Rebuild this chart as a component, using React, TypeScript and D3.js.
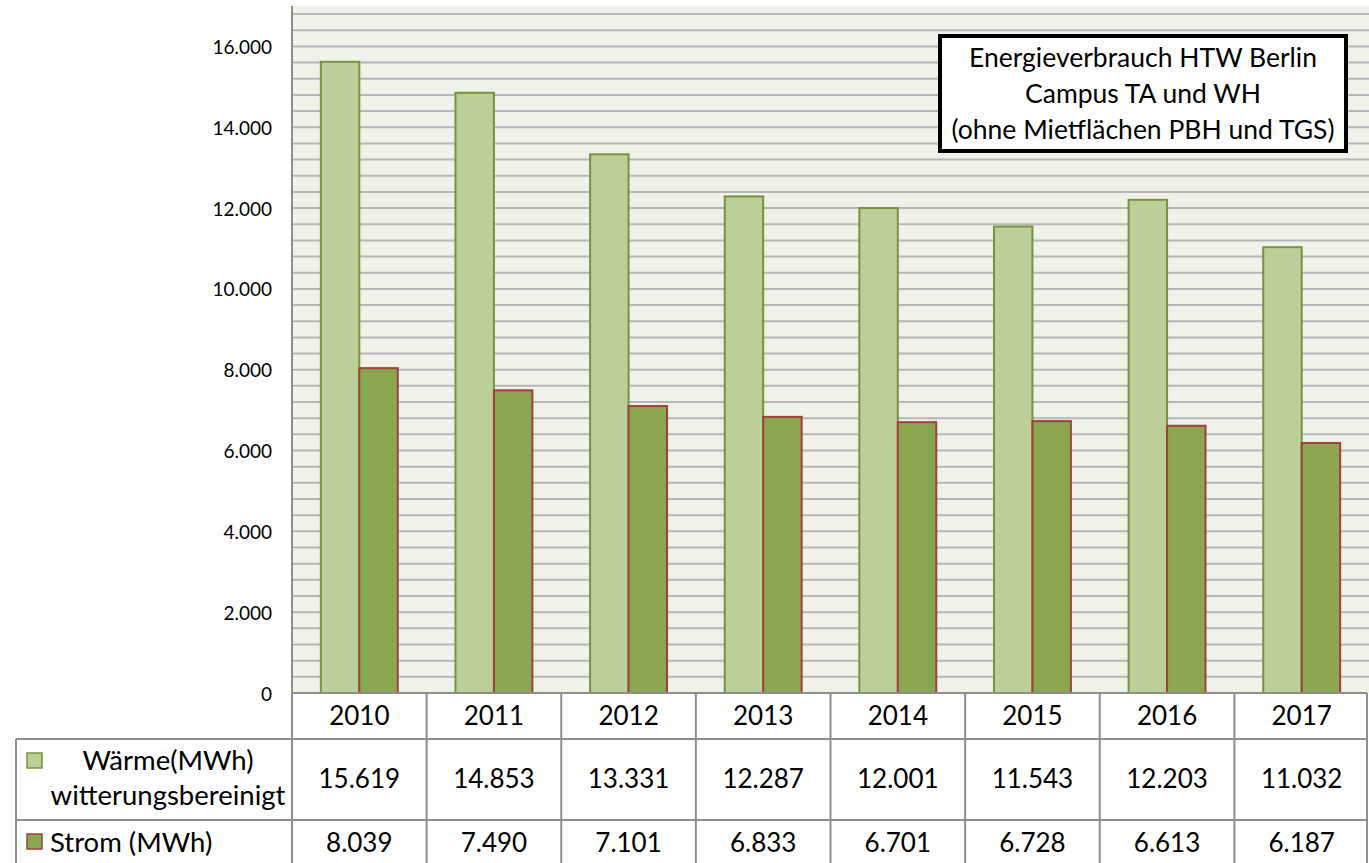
import { formatLocale, range, scaleBand, scaleLinear } from "d3";

const years = ["2010", "2011", "2012", "2013", "2014", "2015", "2016", "2017"];
const waerme = [15619, 14853, 13331, 12287, 12001, 11543, 12203, 11032];
const strom = [8039, 7490, 7101, 6833, 6701, 6728, 6613, 6187];
const yTicks = [0, 2000, 4000, 6000, 8000, 10000, 12000, 14000, 16000];
const titleLines = [
  "Energieverbrauch HTW Berlin",
  "Campus TA und WH",
  "(ohne Mietflächen PBH und TGS)",
];
const seriesNames = ["waerme", "strom"];

const W = 1369;
const H = 863;
const FONT = "Lato, 'Open Sans', sans-serif";

const de = formatLocale({
  decimal: ",",
  thousands: ".",
  grouping: [3],
  currency: ["", " €"],
});
const fmt = de.format(",");

const colors = {
  waerme: { fill: "#bccf98", stroke: "#77933c" },
  strom: { fill: "#8aa64f", stroke: "#a33f3c" },
};

export default function App() {
  const plot = { left: 292, right: W, top: 6, bottom: 693 };
  const x = scaleBand().domain(years).range([plot.left, plot.right]).padding(0);
  const inner = scaleBand()
    .domain(seriesNames)
    .range([0, x.step()])
    .paddingInner(0)
    .paddingOuter(0.75);
  const y = scaleLinear().domain([0, 17000]).range([plot.bottom, plot.top]);
  const grid = range(400, 17000, 400);

  const rowYear = { top: 693, bottom: 739 };
  const rowW = { top: 739, bottom: 820 };
  const rowS = { top: 820, bottom: 870 };
  const tableLeft = 16;
  const tableRight = 1367;
  const lineCol = "#8e8e8e";

  return (
    <svg
      width={W}
      height={H}
      style={{ position: "absolute", left: 0, top: 0, background: "#fff" }}
      fontFamily={FONT}
    >
      {/* plot background + gridlines */}
      <rect
        x={plot.left}
        y={plot.top}
        width={plot.right - plot.left}
        height={plot.bottom - plot.top}
        fill="#f0f2ea"
      />
      {grid.map((g) => (
        <line
          key={`g-${g}`}
          x1={plot.left}
          x2={plot.right}
          y1={y(g)}
          y2={y(g)}
          stroke="#b6b6b6"
          strokeWidth={2}
        />
      ))}

      {/* bars */}
      {years.map((yr, i) => {
        const x0 = x(yr) ?? 0;
        return (
          <g key={`bars-${yr}`}>
            <rect
              x={x0 + (inner("waerme") ?? 0)}
              y={y(waerme[i])}
              width={inner.bandwidth()}
              height={y(0) - y(waerme[i])}
              fill={colors.waerme.fill}
              stroke={colors.waerme.stroke}
              strokeWidth={2}
            />
            <rect
              x={x0 + (inner("strom") ?? 0)}
              y={y(strom[i])}
              width={inner.bandwidth()}
              height={y(0) - y(strom[i])}
              fill={colors.strom.fill}
              stroke={colors.strom.stroke}
              strokeWidth={2}
            />
          </g>
        );
      })}

      {/* y axis */}
      <line
        x1={plot.left}
        x2={plot.left}
        y1={plot.top}
        y2={rowS.bottom}
        stroke={lineCol}
        strokeWidth={2}
      />
      {yTicks.map((t) => (
        <text
          key={`t-${t}`}
          x={272}
          y={y(t)}
          textAnchor="end"
          dominantBaseline="central"
          fontSize={19}
          fill="#000"
        >
          {fmt(t)}
        </text>
      ))}

      {/* data table */}
      <line x1={plot.left} x2={tableRight} y1={rowYear.top} y2={rowYear.top} stroke={lineCol} strokeWidth={2} />
      <line x1={tableLeft} x2={tableRight} y1={rowW.top} y2={rowW.top} stroke={lineCol} strokeWidth={2} />
      <line x1={tableLeft} x2={tableRight} y1={rowS.top} y2={rowS.top} stroke={lineCol} strokeWidth={2} />
      <line x1={tableLeft} x2={tableLeft} y1={rowW.top} y2={rowS.bottom} stroke={lineCol} strokeWidth={2} />
      <line x1={tableRight} x2={tableRight} y1={rowYear.top} y2={rowS.bottom} stroke={lineCol} strokeWidth={2} />
      {years.slice(1).map((yr) => (
        <line
          key={`v-${yr}`}
          x1={x(yr)}
          x2={x(yr)}
          y1={rowYear.top}
          y2={rowS.bottom}
          stroke={lineCol}
          strokeWidth={2}
        />
      ))}
      {years.map((yr, i) => {
        const cx = (x(yr) ?? 0) + x.step() / 2;
        return (
          <g key={`cells-${yr}`} fontSize={26} textAnchor="middle" fill="#000">
            <text x={cx} y={725}>{yr}</text>
            <text x={cx} y={788}>{fmt(waerme[i])}</text>
            <text x={cx} y={852}>{fmt(strom[i])}</text>
          </g>
        );
      })}

      {/* legend keys in table */}
      <rect x={27} y={753} width={15} height={15} fill={colors.waerme.fill} stroke={colors.waerme.stroke} strokeWidth={1.5} />
      <text x={168} y={770} fontSize={27.5} textAnchor="middle">Wärme(MWh)</text>
      <text x={168} y={805} fontSize={27.5} textAnchor="middle">witterungsbereinigt</text>
      <rect x={27} y={834} width={15} height={15} fill={colors.strom.fill} stroke={colors.strom.stroke} strokeWidth={1.5} />
      <text x={50} y={852} fontSize={27.5}>Strom (MWh)</text>

      {/* title box */}
      <rect x={940} y={36} width={406} height={115} fill="#fff" stroke="#000" strokeWidth={4} />
      {titleLines.map((l, i) => (
        <text key={`title-${i}`} x={1143} y={67 + i * 36} fontSize={26.5} textAnchor="middle">
          {l}
        </text>
      ))}
    </svg>
  );
}
